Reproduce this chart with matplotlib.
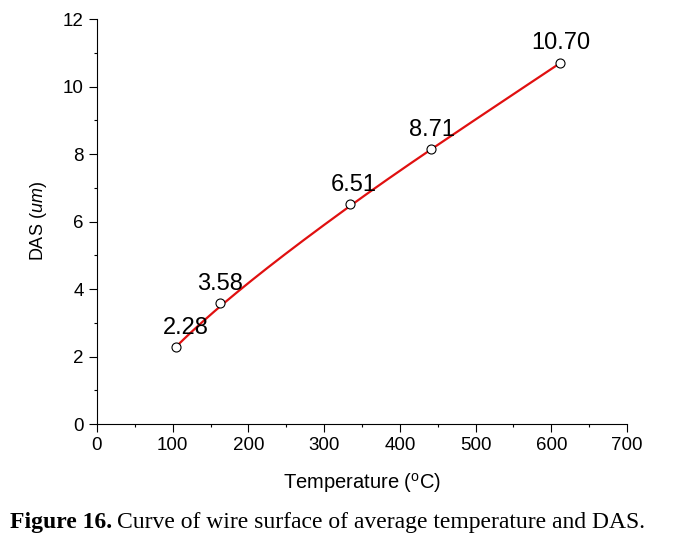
import matplotlib
matplotlib.use("Agg")
import matplotlib.pyplot as plt
import numpy as np
from matplotlib.ticker import MultipleLocator

plt.rcParams["font.family"] = ["Liberation Sans", "DejaVu Sans"]
plt.rcParams["mathtext.fontset"] = "custom"
plt.rcParams["mathtext.rm"] = "Liberation Sans"
plt.rcParams["mathtext.it"] = "Liberation Sans:italic"

# data
temperature = [104, 162, 334, 441, 612]
das = [2.28, 3.58, 6.52, 8.15, 10.70]
point_labels = ["2.28", "3.58", "6.51", "8.71", "10.70"]
label_dx = [7, 0, 3, 1, 0]


def bspline(px, py, k=3, n=200):
    # clamped uniform B-spline using the data points as control points
    m = len(px)
    inner = np.linspace(0, 1, m - k + 1)[1:-1]
    t = np.concatenate([np.zeros(k + 1), inner, np.ones(k + 1)])
    u = np.linspace(0, 1 - 1e-9, n)
    N = np.zeros((n, len(t) - 1))
    for i in range(len(t) - 1):
        N[:, i] = (u >= t[i]) & (u < t[i + 1])
    for d in range(1, k + 1):
        Nn = np.zeros((n, len(t) - d - 1))
        for i in range(len(t) - d - 1):
            a = (u - t[i]) / (t[i + d] - t[i]) if t[i + d] > t[i] else 0
            b = (t[i + d + 1] - u) / (t[i + d + 1] - t[i + 1]) if t[i + d + 1] > t[i + 1] else 0
            Nn[:, i] = a * N[:, i] + b * N[:, i + 1]
        N = Nn
    return N @ np.asarray(px, float), N @ np.asarray(py, float)


fig = plt.figure(figsize=(6.84, 5.40), dpi=100)
ax = fig.add_axes([0.1418, 0.2148, 0.775, 0.750])

sx, sy = bspline(temperature, das, k=3)
ax.plot(sx, sy, color="#e01010", lw=1.6, zorder=2)
ax.plot(temperature, das, "o", ms=6.5, mfc="white", mec="black", mew=0.8, zorder=3)

for x, y, s, dx in zip(temperature, das, point_labels, label_dx):
    ax.annotate(s, xy=(x, y), xytext=(dx, 14), textcoords="offset points",
                ha="center", va="center", fontsize=17)

ax.set_xlim(0, 700)
ax.set_ylim(0, 12)
ax.xaxis.set_major_locator(MultipleLocator(100))
ax.xaxis.set_minor_locator(MultipleLocator(50))
ax.yaxis.set_major_locator(MultipleLocator(2))
ax.yaxis.set_minor_locator(MultipleLocator(1))
ax.spines["top"].set_visible(False)
ax.spines["right"].set_visible(False)
ax.tick_params(which="major", direction="out", length=5.5, width=0.8,
               labelsize=13.5, pad=4)
ax.tick_params(which="minor", direction="out", length=2.5, width=0.8)

ax.set_xlabel(r"Temperature ($^{\rm o}$C)", fontsize=14.5, labelpad=12)
ax.set_ylabel(r"DAS ($\it{um}$)", fontsize=13, labelpad=10)

fig.text(10 / 684, 0.022, "Figure 16.", fontsize=17, fontweight="bold",
         family="Liberation Serif", ha="left", va="baseline")
fig.text(117 / 684, 0.022, "Curve of wire surface of average temperature and DAS.",
         fontsize=17, family="Liberation Serif", ha="left", va="baseline")

fig.savefig("out.png", dpi=100)
